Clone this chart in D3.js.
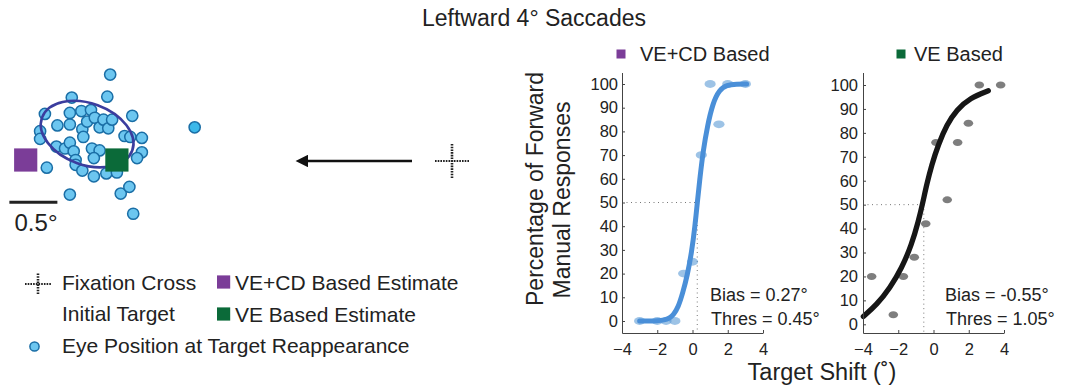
<!DOCTYPE html>
<html><head><meta charset="utf-8">
<script src="https://cdn.jsdelivr.net/npm/d3@7"></script>
<style>
body{margin:0;background:#fff}
svg{display:block}
text{font-family:"Liberation Sans",Arial,Helvetica,sans-serif;fill:#222}
</style>
</head><body>
<svg id="c" width="1066" height="387"></svg>
<script>
// ---------- data ----------
const title = "Leftward 4° Saccades";
// eye positions (deg), relative to VE+CD based estimate
const eyeX = [0.88,0.85,0.48,0.20,1.11,0.46,0.58,0.68,0.33,0.46,0.59,0.64,0.72,0.77,0.81,0.86,0.90,0.15,0.15,1.03,1.09,1.21,0.60,0.32,0.41,0.46,0.50,0.52,0.52,0.59,0.69,0.77,0.71,0.71,0.84,0.95,1.21,1.16,0.22,0.46,0.99,1.08,1.12];
const eyeY = [0.89,0.66,0.65,0.48,0.46,0.49,0.51,0.52,0.36,0.37,0.32,0.40,0.44,0.34,0.42,0.33,0.42,0.30,0.22,0.25,0.24,0.23,0.24,0.14,0.12,0.18,0.09,0.00,-0.05,-0.11,0.12,0.10,0.02,-0.17,-0.14,-0.13,0.08,0.02,-0.08,-0.36,-0.35,-0.28,-0.56];
const outlierX = [1.76], outlierY = [0.34];
const estimateNames = ["VE+CD Based Estimate","VE Based Estimate"];
const estimateX = [0, 0.95], estimateY = [0, 0];
const ellipseCenter = [0.64, 0.27], ellipseRadii = [0.50, 0.32], ellipseAngle = 20;
const scaleBarLabel = "0.5°", scaleBarLen = 0.5;

const xTicks = [-4,-2,0,2,4];
const yTicks = [0,10,20,30,40,50,60,70,80,90,100];

// VE+CD based panel
const cdShift = [-3,-2,-1.5,-1,-0.5,0,0.5,1,1.5,2,3];
const cdResp  = [0,0,0,0,20,25,70,100,83,100,100];
const cdFitX  = [-3,-2.5,-2,-1.6,-1.3,-1.09,-0.8,-0.56,-0.3,-0.05,0.14,0.27,0.43,0.61,0.84,1.15,1.52,1.94,2.5,3.07];
const cdFitY  = [0,0,0.1,0.4,1.2,2.5,6,11.7,19,29,40,49.7,61,72,82,91.9,97.5,99.6,100,100];
const cdBias = 0.27, cdThres = 0.45;

// VE based panel
const veShift = [-3.51,-2.28,-1.71,-1.09,-0.44,0.14,0.78,1.37,1.98,2.6,3.81];
const veResp  = [20,4,20,28,42,76,52,76,84,100,100];
const veFitX  = [-3.98,-3.22,-2.47,-1.80,-1.24,-0.86,-0.61,-0.39,-0.10,0.27,0.75,1.32,2.07,3.11];
const veFitY  = [3.3,8.2,15.2,23.5,33.3,43,50.7,58.3,66.7,75,83.4,89.7,94.6,97.6];
const veBias = -0.55, veThres = 1.05;

const panelTitles = ["VE+CD Based","VE Based"];
const yLabel = ["Percentage of Forward","Manual Responses"];
const xLabel = "Target Shift (˚)";
const legendLabels = ["Fixation Cross","Initial Target","Eye Position at Target Reappearance"];

// ---------- drawing ----------
const svg = d3.select("#c");
svg.append("rect").attr("width",1066).attr("height",387).attr("fill","#fff");
const PURPLE = "#7b3d98", GREEN = "#0b6a39";
const FONT = '"Liberation Sans",Arial,Helvetica,sans-serif';

svg.append("text").attr("x",534).attr("y",18).attr("text-anchor","middle")
  .attr("dominant-baseline","central").style("font-size","23px").text(title);

// scatter
const sx = d3.scaleLinear().domain([0,1]).range([25.7,121.7]);
const sy = d3.scaleLinear().domain([0,1]).range([160,64]);
const sc = svg.append("g");
sc.selectAll("circle.eye").data(d3.range(eyeX.length)).join("circle")
  .attr("class","eye").attr("cx",i=>sx(eyeX[i])).attr("cy",i=>sy(eyeY[i])).attr("r",5.6)
  .attr("fill","#6cc6f0").attr("stroke","#1a6ea6").attr("stroke-width",1.5);
sc.selectAll("circle.out").data(d3.range(outlierX.length)).join("circle")
  .attr("class","out").attr("cx",i=>sx(outlierX[i])).attr("cy",i=>sy(outlierY[i])).attr("r",5.6)
  .attr("fill","#3cb8ea").attr("stroke","#1a6ea6").attr("stroke-width",1.5);
const pxPerDeg = sx(1)-sx(0);
sc.append("ellipse").attr("cx",sx(ellipseCenter[0])).attr("cy",sy(ellipseCenter[1]))
  .attr("rx",ellipseRadii[0]*pxPerDeg).attr("ry",ellipseRadii[1]*pxPerDeg)
  .attr("transform",`rotate(${ellipseAngle},${sx(ellipseCenter[0])},${sy(ellipseCenter[1])})`)
  .attr("fill","none").attr("stroke","#3b3d9e").attr("stroke-width",2.6);
const sqCol = [PURPLE, GREEN];
sc.selectAll("rect.est").data(d3.range(estimateX.length)).join("rect")
  .attr("class","est").attr("x",i=>sx(estimateX[i])-11.6).attr("y",i=>sy(estimateY[i])-11.6)
  .attr("width",23.2).attr("height",23.2).attr("fill",i=>sqCol[i]);
// scale bar
sc.append("line").attr("x1",sx(-0.17)).attr("x2",sx(-0.17+scaleBarLen)).attr("y1",sy(-0.44)).attr("y2",sy(-0.44))
  .attr("stroke","#222").attr("stroke-width",3);
sc.append("text").attr("x",36).attr("y",222).attr("text-anchor","middle").attr("dominant-baseline","central")
  .style("font-size","24px").text(scaleBarLabel);

// arrow
svg.append("defs").append("marker").attr("id","ah").attr("viewBox","0 0 10 10").attr("refX",0).attr("refY",5)
  .attr("markerWidth",7.8).attr("markerHeight",4.6).attr("markerUnits","strokeWidth").attr("orient","auto")
  .append("path").attr("d","M0,0 L10,5 L0,10 Z").attr("fill","#111");
svg.append("line").attr("x1",412).attr("y1",161).attr("x2",308).attr("y2",161)
  .attr("stroke","#111").attr("stroke-width",2.7).attr("marker-end","url(#ah)");

function cross(g, cx, cy, w, h){
  g.append("line").attr("x1",cx-w/2).attr("x2",cx+w/2).attr("y1",cy).attr("y2",cy)
    .attr("stroke","#222").attr("stroke-width",2.2).attr("stroke-dasharray","1.6,1.1");
  g.append("line").attr("x1",cx).attr("x2",cx).attr("y1",cy-h/2).attr("y2",cy+h/2)
    .attr("stroke","#222").attr("stroke-width",2.6).attr("stroke-dasharray","1.6,1.1");
}
cross(svg, 452, 161, 34, 34);

// legend
const lg = svg.append("g");
cross(lg, 38, 284, 26, 21);
lg.append("text").attr("x",62).attr("y",282).attr("dominant-baseline","central").style("font-size","21px").text(legendLabels[0]);
lg.append("text").attr("x",62).attr("y",313.5).attr("dominant-baseline","central").style("font-size","21px").text(legendLabels[1]);
lg.append("circle").attr("cx",34.5).attr("cy",346.5).attr("r",4.6).attr("fill","#6cc6f0").attr("stroke","#1a6ea6").attr("stroke-width",1.5);
lg.append("text").attr("x",62).attr("y",345).attr("dominant-baseline","central").style("font-size","21px").text(legendLabels[2]);
[0,1].forEach(i=>{
  const y = i===0?282:314;
  lg.append("rect").attr("x",217).attr("y",y-6.6).attr("width",13.2).attr("height",13.2).attr("fill",sqCol[i]);
  lg.append("text").attr("x",235).attr("y",y).attr("dominant-baseline","central").style("font-size","21px").text(estimateNames[i]);
});

// psychometric panels
function panel(o){
  const x = d3.scaleLinear().domain([-4,4]).range(o.xr);
  const y = d3.scaleLinear().domain([0,100]).range(o.yr01);
  const yBottom = o.axisBottom, yTop = 72.5;
  const g = svg.append("g");
  // dotted guides
  g.append("line").attr("x1",o.xr[0]).attr("x2",x(o.bias)).attr("y1",y(50)).attr("y2",y(50))
    .attr("stroke","#777").attr("stroke-width",1).attr("stroke-dasharray","1,3.5");
  g.append("line").attr("x1",x(o.bias)).attr("x2",x(o.bias)).attr("y1",y(50)).attr("y2",yBottom)
    .attr("stroke","#777").attr("stroke-width",1).attr("stroke-dasharray","1,3.5");
  // points
  g.selectAll("ellipse.pt").data(d3.range(o.px.length)).join("ellipse").attr("class","pt")
    .attr("cx",i=>x(o.px[i])).attr("cy",i=>y(o.py[i])).attr("rx",o.prx).attr("ry",o.pry)
    .attr("fill",o.ptCol).attr("fill-opacity",o.ptOp);
  // fit
  const line = d3.line().x((d,i)=>x(o.fx[i])).y((d,i)=>y(o.fy[i])).curve(d3.curveBasis);
  g.append("path").attr("d",line(o.fx)).attr("fill","none").attr("stroke",o.lineCol)
    .attr("stroke-width",o.lw).attr("stroke-linecap","round");
  // axes
  const yAxisScale = d3.scaleLinear().domain([y.invert(yBottom), y.invert(yTop)]).range([yBottom,yTop]);
  const ya = g.append("g").attr("transform",`translate(${o.xr[0]},0)`)
    .call(d3.axisLeft(yAxisScale).tickValues(yTicks).tickSizeInner(-3).tickSizeOuter(0).tickPadding(o.ypad));
  const xa = g.append("g").attr("transform",`translate(0,${yBottom})`)
    .call(d3.axisBottom(x).tickValues(xTicks).tickSizeInner(-3).tickSizeOuter(0).tickPadding(10));
  [ya,xa].forEach(a=>{
    a.select(".domain").attr("stroke","#444").attr("stroke-width",1);
    a.selectAll(".tick line").attr("stroke","#444");
    a.selectAll("text").style("font-size","16.5px").style("font-family",FONT).attr("fill","#222");
  });
  // header
  g.append("rect").attr("x",o.hx-4.5).attr("y",49.5).attr("width",9).attr("height",9).attr("fill",o.hcol);
  g.append("text").attr("x",o.tx).attr("y",54).attr("dominant-baseline","central").style("font-size","20px").text(o.title);
  // stats
  g.append("text").attr("x",o.sx).attr("y",295).attr("dominant-baseline","central").style("font-size","18px").text(`Bias = ${o.bias.toFixed(2)}°`);
  g.append("text").attr("x",o.sx+1).attr("y",319).attr("dominant-baseline","central").style("font-size","18px").text(`Thres = ${o.thres.toFixed(2)}°`);
}
panel({xr:[622,763], yr01:[321,84], axisBottom:333, ypad:4, bias:cdBias, thres:cdThres,
  px:cdShift, py:cdResp, fx:cdFitX, fy:cdFitY, ptCol:"#5b9bd5", ptOp:0.6, prx:5.6, pry:3.9, lineCol:"#4a8fd8", lw:5,
  hx:621, tx:640, hcol:PURPLE, title:panelTitles[0], sx:710});
panel({xr:[863,1004], yr01:[324.3,85], axisBottom:333, ypad:5, bias:veBias, thres:veThres,
  px:veShift, py:veResp, fx:veFitX, fy:veFitY, ptCol:"#777", ptOp:0.95, prx:4.8, pry:3.5, lineCol:"#161616", lw:5.3,
  hx:901, tx:914, hcol:GREEN, title:panelTitles[1], sx:945});

// axis labels
svg.append("text").attr("transform","translate(535,189) rotate(-90)").attr("text-anchor","middle")
  .attr("dominant-baseline","central").style("font-size","23px").text(yLabel[0]);
svg.append("text").attr("transform","translate(562,200) rotate(-90)").attr("text-anchor","middle")
  .attr("dominant-baseline","central").style("font-size","23px").text(yLabel[1]);
svg.append("text").attr("x",822).attr("y",372).attr("text-anchor","middle")
  .attr("dominant-baseline","central").style("font-size","23.5px").text(xLabel);
</script>
</body></html>
